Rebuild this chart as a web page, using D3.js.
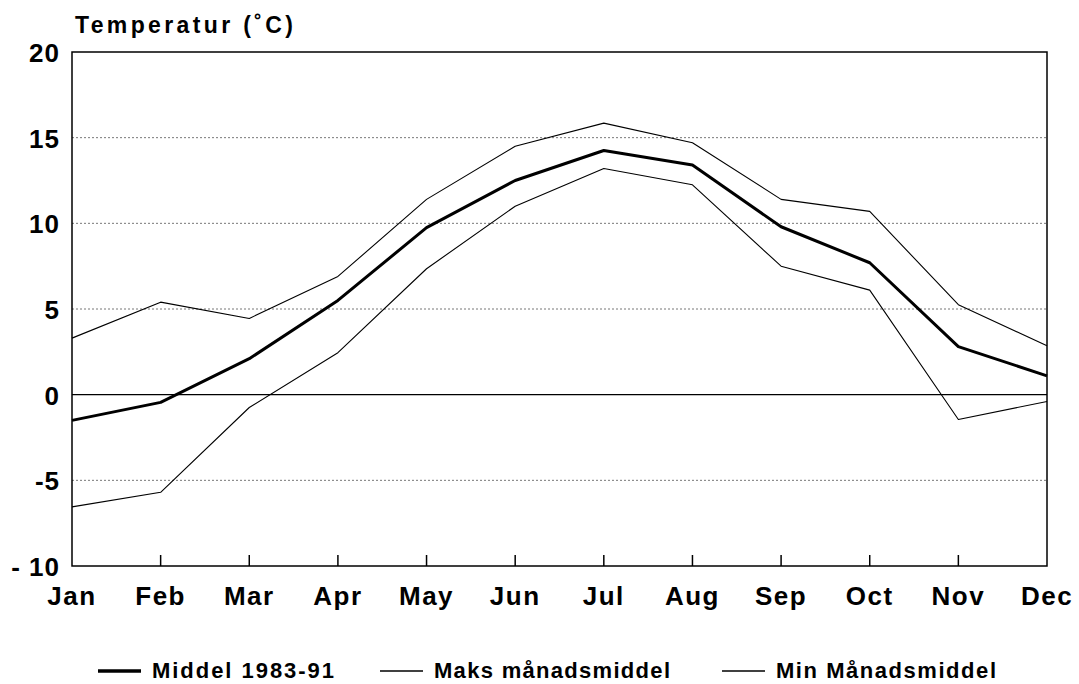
<!DOCTYPE html>
<html>
<head>
<meta charset="utf-8">
<script src="https://cdn.jsdelivr.net/npm/d3@7"></script>
<style>
  body { margin: 0; background: #fff; }
  text { font-family: "Liberation Sans", Arial, sans-serif; font-weight: bold; fill: #000; }
</style>
</head>
<body>
<script>
// data
const months = ["Jan","Feb","Mar","Apr","May","Jun","Jul","Aug","Sep","Oct","Nov","Dec"];
const middel = [-1.5, -0.45, 2.1, 5.5, 9.75, 12.5, 14.25, 13.4, 9.8, 7.7, 2.8, 1.1];
const maks   = [3.3, 5.4, 4.45, 6.9, 11.4, 14.5, 15.85, 14.7, 11.4, 10.7, 5.25, 2.85];
const minv   = [-6.55, -5.7, -0.75, 2.45, 7.35, 11.0, 13.2, 12.25, 7.5, 6.1, -1.45, -0.4];
const yTicks = [20, 15, 10, 5, 0, -5, -10];
const gridVals = [15, 10, 5, -5];
const legendNames = ["Middel 1983-91", "Maks månadsmiddel", "Min Månadsmiddel"];

var width = 1079, height = 684;
var margin = {top: 52, right: 32, bottom: 118, left: 72};
var w = width - margin.left - margin.right;
var h = height - margin.top - margin.bottom;

var svg = d3.select("body").append("svg")
    .attr("width", width)
    .attr("height", height);

var g = svg.append("g")
    .attr("transform", `translate(${margin.left}, ${margin.top})`);

const x = d3.scalePoint().domain(months).range([0, w]);
const y = d3.scaleLinear().domain([-10, 20]).range([h, 0]);

// linjer med prikkar
g.selectAll("line.grid")
    .data(gridVals)
    .enter().append("line")
    .attr("class", "grid")
    .attr("x1", 0).attr("x2", w)
    .attr("y1", d => y(d)).attr("y2", d => y(d))
    .attr("stroke", "#777")
    .attr("stroke-width", 1)
    .attr("stroke-dasharray", "2,2");

// null-linja
g.append("line")
    .attr("x1", 0).attr("x2", w)
    .attr("y1", y(0)).attr("y2", y(0))
    .attr("stroke", "#000").attr("stroke-width", 1.2);

// ramme
g.append("rect")
    .attr("width", w).attr("height", h)
    .attr("fill", "none").attr("stroke", "#000").attr("stroke-width", 1.5);

// tick-merke nede
g.selectAll("line.xtick")
    .data(months.slice(1, -1))
    .enter().append("line")
    .attr("class", "xtick")
    .attr("x1", d => x(d)).attr("x2", d => x(d))
    .attr("y1", h).attr("y2", h - 11)
    .attr("stroke", "#000").attr("stroke-width", 1.5);

// månader
g.selectAll("text.xlab")
    .data(months)
    .enter().append("text")
    .attr("class", "xlab")
    .attr("x", d => x(d))
    .attr("y", h + 39)
    .attr("text-anchor", "middle")
    .style("font-size", "26px")
    .style("letter-spacing", "1.5px")
    .text(d => d);

// y-verdiar
g.selectAll("text.ylab")
    .data(yTicks)
    .enter().append("text")
    .attr("class", "ylab")
    .attr("x", -12)
    .attr("y", d => y(d) + 10)
    .attr("text-anchor", "end")
    .style("font-size", "26px")
    .style("letter-spacing", "1px")
    .text(d => d < 0 ? "-" + (d === -10 ? " " : "") + Math.abs(d) : d);

// tittel
svg.append("text")
    .attr("x", 75)
    .attr("y", 33)
    .attr("textLength", 218)
    .attr("lengthAdjust", "spacing")
    .style("font-size", "23px")
    .text("Temperatur (˚C)");

// kurver
const line = d3.line()
    .x((d, i) => x(months[i]))
    .y(d => y(d));

const series = [
    {name: legendNames[0], values: middel, sw: 3},
    {name: legendNames[1], values: maks, sw: 1.1},
    {name: legendNames[2], values: minv, sw: 1.1}
];

g.selectAll("path.series")
    .data(series)
    .enter().append("path")
    .attr("class", "series")
    .attr("d", d => line(d.values))
    .attr("fill", "none")
    .attr("stroke", "#000")
    .attr("stroke-width", d => d.sw)
    .attr("stroke-linejoin", "round");

// forklaring
const legendX = [98, 380, 722];
const legendLen = [182, 236, 220];
const legend = svg.append("g");
series.forEach((s, i) => {
    legend.append("line")
        .attr("x1", legendX[i]).attr("x2", legendX[i] + 43)
        .attr("y1", 671).attr("y2", 671)
        .attr("stroke", "#000")
        .attr("stroke-width", s.sw + 0.3);
    legend.append("text")
        .attr("x", legendX[i] + 54)
        .attr("y", 678)
        .attr("textLength", legendLen[i])
        .attr("lengthAdjust", "spacing")
        .style("font-size", "22px")
        .text(s.name);
});
</script>
</body>
</html>
